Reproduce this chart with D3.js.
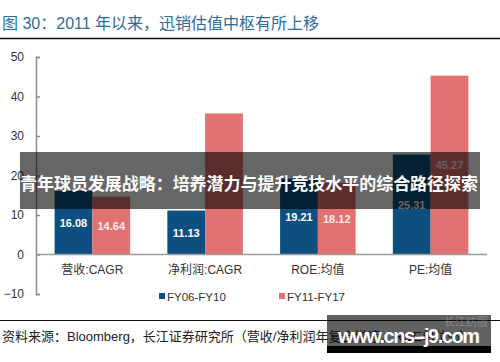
<!DOCTYPE html>
<html lang="zh">
    <head>
        <meta charset="utf-8">
        <title>迅销估值中枢</title>
        <style>
            body { margin: 0; background: #fff; }
            svg { display: block; font-family: "Liberation Sans", Arial, "Noto Sans CJK SC", sans-serif; }
            .cjk { font-family: "Liberation Sans", "Noto Sans CJK SC", sans-serif; }
        </style>
    </head>
    <body>
        <script src="https://d3js.org/d3.v7.min.js"></script>
        <svg id="chart"></svg>
        <script>
            const width = 500;
            const height = 362;

            const categories = ["营收:CAGR", "净利润:CAGR", "ROE:均值", "PE:均值"];
            const seriesNames = ["FY06-FY10", "FY11-FY17"];
            const fy0610 = [16.08, 11.13, 19.21, 25.31];
            const fy1117 = [14.64, 35.72, 18.12, 45.27];
            const showLabel1117 = [true, false, true, true];
            const yTicks = [-10, 0, 10, 20, 30, 40, 50];
            const colors = ["#0d4f81", "#e47171"];

            const svg = d3.select("#chart")
                .attr("width", width)
                .attr("height", height)

            // title + rules
            svg.append("text")
                .attr("class", "cjk")
                .attr("x", 2)
                .attr("y", 29)
                .attr("font-size", 16)
                .attr("fill", "#2d6c9b")
                .text("图 30：2011 年以来，迅销估值中枢有所上移")
            svg.append("line")
                .attr("x1", 0).attr("x2", width)
                .attr("y1", 38.5).attr("y2", 38.5)
                .attr("stroke", "#111").attr("stroke-width", 1.5)

            const x = d3.scaleBand()
                .domain(categories)
                .range([36, 487])
                .paddingInner(0.33)
                .paddingOuter(0.165)
            const xs = d3.scaleBand()
                .domain(seriesNames)
                .range([0, x.bandwidth()])
            const y = d3.scaleLinear()
                .domain([-10, 50])
                .range([294, 57])

            const rows = categories.map((c, i) => ({cat: c, vals: [fy0610[i], fy1117[i]], show: [true, showLabel1117[i]]}))

            const groups = svg.selectAll("g.grp")
                .data(rows)
                .enter()
                .append("g")
                .attr("class", "grp")
                .attr("transform", d => `translate(${x(d.cat)},0)`)

            groups.selectAll("rect")
                .data(d => d.vals.map((v, j) => ({v, j, show: d.show[j]})))
                .enter()
                .append("rect")
                .attr("x", d => xs(seriesNames[d.j]))
                .attr("width", xs.bandwidth())
                .attr("y", d => y(d.v))
                .attr("height", d => y(0) - y(d.v))
                .attr("fill", d => colors[d.j])

            groups.selectAll("text.val")
                .data(d => d.vals.map((v, j) => ({v, j, show: d.show[j]})).filter(d => d.show))
                .enter()
                .append("text")
                .attr("class", "val")
                .attr("x", d => xs(seriesNames[d.j]) + xs.bandwidth() / 2)
                .attr("y", d => (y(d.v) + y(0)) / 2 + 4)
                .attr("text-anchor", "middle")
                .attr("font-size", 11)
                .attr("font-weight", "bold")
                .attr("fill", d => d.j === 0 ? "#fff" : "#fdeeee")
                .text(d => d.v.toFixed(2))

            // y axis
            const yAxis = d3.axisLeft(y)
                .tickValues(yTicks)
                .tickSizeInner(-4)
                .tickSizeOuter(-4)
                .tickPadding(12)
            const ag = svg.append("g")
                .attr("transform", "translate(36,0)")
                .call(yAxis)
            ag.selectAll("path, line").attr("stroke", "#8c8c8c").attr("stroke-width", 1.5)
            ag.selectAll("text").attr("font-size", 12).attr("fill", "#333")
                .attr("font-family", "Liberation Sans, Arial, sans-serif")

            // zero line
            svg.append("line")
                .attr("x1", 36).attr("x2", 487)
                .attr("y1", y(0)).attr("y2", y(0))
                .attr("stroke", "#9a9a9a").attr("stroke-width", 1.5)

            // category labels
            svg.selectAll("text.cat")
                .data(categories)
                .enter()
                .append("text")
                .attr("class", "cat cjk")
                .attr("x", d => x(d) + x.bandwidth() / 2)
                .attr("y", 274)
                .attr("text-anchor", "middle")
                .attr("font-size", 12)
                .attr("fill", "#333")
                .text(d => d)

            // legend
            const legX = [159, 279];
            seriesNames.forEach((s, i) => {
                svg.append("rect")
                    .attr("x", legX[i]).attr("y", 293)
                    .attr("width", 6).attr("height", 6)
                    .attr("fill", colors[i])
                svg.append("text")
                    .attr("x", legX[i] + 8).attr("y", 300.5)
                    .attr("font-size", 11.5)
                    .attr("fill", "#333")
                    .text(s)
            })

            // source
            svg.append("line")
                .attr("x1", 0).attr("x2", width)
                .attr("y1", 320.5).attr("y2", 320.5)
                .attr("stroke", "#111").attr("stroke-width", 1.2)
            svg.append("text")
                .attr("class", "cjk")
                .attr("x", 2).attr("y", 341)
                .attr("font-size", 13)
                .attr("fill", "#222")
                .text("资料来源：Bloomberg，长江证券研究所（营收/净利润年复合增速，ROE单位%）")

            // overlay banner
            svg.append("rect")
                .attr("x", 20).attr("y", 152)
                .attr("width", 460).attr("height", 57)
                .attr("fill", "rgba(0,0,0,0.6)")
            svg.append("text")
                .attr("class", "cjk")
                .attr("x", 20).attr("y", 190)
                .attr("font-size", 17)
                .attr("font-weight", "bold")
                .attr("fill", "#fff")
                .attr("textLength", 458)
                .text("青年球员发展战略：培养潜力与提升竞技水平的综合路径探索")

            // watermark box
            svg.append("rect")
                .attr("x", 327).attr("y", 315)
                .attr("width", 164).attr("height", 38)
                .attr("fill", "rgba(0,0,0,0.62)")
            svg.append("rect")
                .attr("x", 327).attr("y", 346)
                .attr("width", 164).attr("height", 7)
                .attr("fill", "#000")
            svg.append("text")
                .attr("class", "cjk")
                .attr("x", 488).attr("y", 326)
                .attr("text-anchor", "end")
                .attr("font-size", 11)
                .attr("fill", "rgba(255,255,255,0.25)")
                .text("长江纺服")
            svg.append("text")
                .attr("x", 338).attr("y", 343)
                .attr("font-size", 20)
                .attr("font-weight", "bold")
                .attr("fill", "#fff")
                .attr("textLength", 142)
                .text("www.cns--j9.com")
        </script>
    </body>
</html>
